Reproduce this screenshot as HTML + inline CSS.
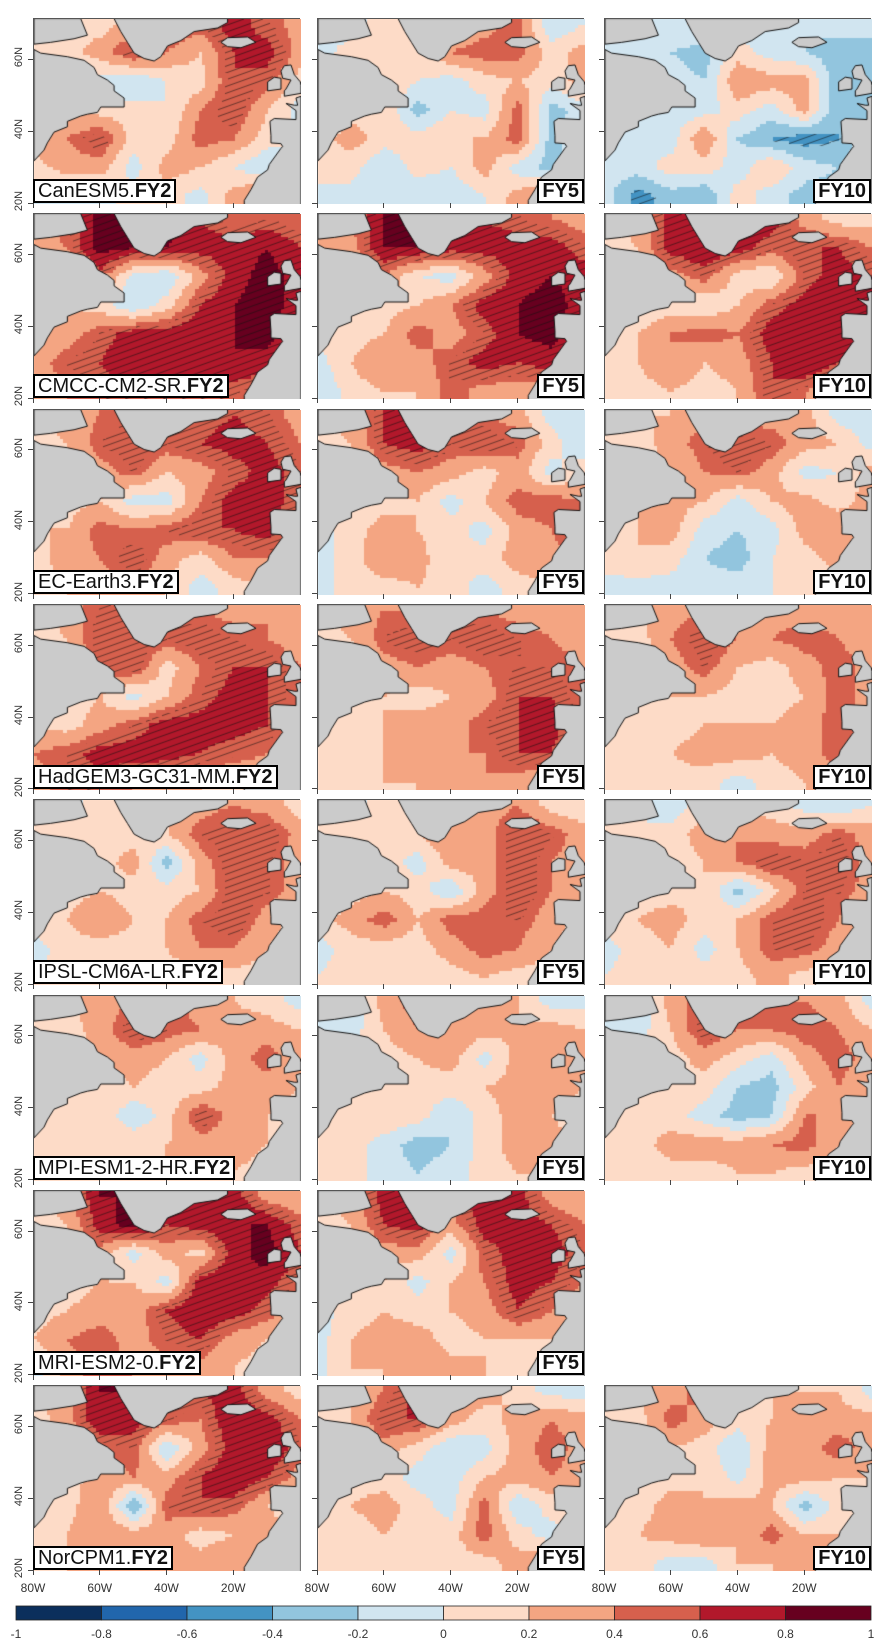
<!DOCTYPE html>
<html><head><meta charset="utf-8">
<style>
html,body{margin:0;padding:0;background:#fff;}
body{width:884px;height:1647px;position:relative;overflow:hidden;font-family:"Liberation Sans",sans-serif;}
.panel{position:absolute;width:267px;height:185px;border:1px solid #555;box-sizing:border-box;}
.panel canvas{position:absolute;left:0;top:0;}
.lbl{position:absolute;bottom:-1px;background:#fff;border:2px solid #000;font-size:20px;line-height:20px;padding:0 3px;color:#111;white-space:nowrap;}
.lbl b{font-weight:bold;}
.ylab{position:absolute;font-size:11px;color:#333;transform:rotate(-90deg);transform-origin:center;width:30px;text-align:center;}
.xlab{position:absolute;font-size:12px;color:#333;width:40px;text-align:center;}
.tick{position:absolute;background:#444;}
.cbl{position:absolute;font-size:12px;color:#333;width:40px;text-align:center;top:1627px;}
</style></head>
<body>
<div id="root"></div>
<svg id="cb" style="position:absolute;left:0;top:0" width="884" height="1647"></svg>
<script>
const models=["CanESM5","CMCC-CM2-SR","EC-Earth3","HadGEM3-GC31-MM","IPSL-CM6A-LR","MPI-ESM1-2-HR","MRI-ESM2-0","NorCPM1"];
const leads=["FY2","FY5","FY10"];
const lonGrid=[-80,-70,-60,-50,-40,-30,-20,-10,0];
const latGrid=[70,62,54,46,38,30,22];
const cbTicks=[-1,-0.8,-0.6,-0.4,-0.2,0,0.2,0.4,0.6,0.8,1];
const xTickLabels=["80W","60W","40W","20W"];
const xTickLons=[-80,-60,-40,-20];
const yTickLabels=["60N","40N","20N"];
const yTickLats=[60,40,20];
// values in tenths of correlation, rows = latGrid, cols = lonGrid
const CanESM5_FY2=[[2,2,1,3,6,5,7,5,3],[1,1,3,6,4,2,6,7,3],[1,0,-1,-2,0,1,6,5,1],[1,2,1,1,0,4,6,2,-1],[3,4,6,1,1,5,4,1,0],[1,3,3,-1,3,2,0,-2,0],[0,-1,-1,1,1,-1,3,5,0]];
const CanESM5_FY5=[[-1,-1,1,1,2,3,5,-2,0],[-1,1,1,1,4,5,5,1,3],[0,1,2,0,-1,1,2,1,3],[0,1,2,-3,0,-1,5,-3,-1],[1,3,1,1,2,2,5,-3,0],[0,1,-2,1,0,3,-1,-3,0],[0,-1,-1,-2,-2,0,3,5,0]];
const CanESM5_FY10=[[-1,-1,-1,1,-1,-2,-2,-1,-2],[-1,-1,-2,-3,1,-1,-2,-3,-2],[-1,-1,-1,-2,4,3,3,-4,-2],[-1,0,-1,-1,1,-1,3,-4,-3],[-1,-1,-1,4,-2,-4,-5,-4,0],[-1,-1,1,1,-1,2,-1,-2,0],[-1,-5,-3,-4,1,-1,-3,-3,0]];
const CMCC_FY2=[[3,5,9,8,9,6,4,5,4],[3,4,9,8,8,7,7,8,6],[2,2,5,-1,-2,3,7,9,7],[1,2,1,-2,1,6,8,9,7],[2,3,5,7,7,8,8,9,6],[3,5,6,8,7,7,8,7,5],[2,4,5,6,5,5,5,4,3]];
const CMCC_FY5=[[2,4,8,8,8,6,5,4,3],[2,3,8,8,7,7,7,7,5],[2,2,4,0,-1,3,7,8,7],[1,1,1,2,4,7,8,9,7],[1,1,2,5,3,5,8,9,6],[-1,2,4,3,5,7,6,7,5],[-2,1,2,2,5,3,3,3,2]];
const CMCC_FY10=[[1,3,7,8,8,7,3,1,1],[1,2,7,8,7,5,6,6,4],[1,2,3,5,1,0,5,7,6],[1,0,1,0,2,5,7,8,7],[1,2,4,5,4,7,8,8,5],[1,2,4,2,3,6,8,6,4],[1,1,2,1,2,6,4,3,2]];
const EC_FY2=[[2,3,4,5,6,5,6,5,3],[1,2,5,6,5,6,7,6,4],[1,2,3,5,2,3,5,7,5],[1,1,2,-1,-1,4,7,7,5],[2,2,5,4,5,6,6,7,4],[1,3,4,6,3,1,4,4,2],[1,2,3,4,2,-1,1,2,1]];
const EC_FY5=[[2,3,6,8,7,4,3,-1,-1],[1,2,6,7,5,6,5,1,-2],[1,1,3,4,3,1,3,-1,2],[1,1,1,2,-1,2,5,5,4],[-1,1,3,2,1,-1,3,4,7],[-1,1,4,3,0,1,3,3,4],[-1,1,1,2,1,-1,1,2,1]];
const EC_FY10=[[1,2,2,4,3,3,3,-1,-1],[1,1,3,5,6,5,3,2,-1],[1,1,2,4,5,3,-1,0,3],[1,2,3,2,-1,2,3,1,3],[1,2,3,-1,-2,-1,3,4,3],[1,2,1,-2,-3,0,1,3,2],[-1,-1,-1,-1,-1,0,1,1,1]];
const HAD_FY2=[[1,3,5,5,5,4,3,4,3],[1,2,6,6,5,6,5,4,3],[1,2,5,6,1,4,6,6,4],[1,1,2,-1,2,5,7,6,4],[2,1,3,5,7,7,7,6,3],[4,5,7,7,7,6,5,4,2],[3,5,5,4,3,2,2,2,1]];
const HAD_FY5=[[2,3,4,4,5,4,3,3,2],[1,2,5,6,5,6,5,4,3],[1,1,3,4,3,4,5,5,4],[1,1,2,1,2,3,6,6,4],[1,1,2,3,3,5,6,7,4],[1,1,2,3,4,4,6,6,3],[1,1,2,2,3,4,3,2,1]];
const HAD_FY10=[[1,2,3,4,4,3,3,3,2],[1,1,4,6,4,4,5,4,3],[1,1,3,5,2,1,3,5,3],[1,1,2,2,1,1,2,5,3],[1,1,1,2,2,2,3,5,3],[1,1,2,3,3,2,3,5,3],[1,1,1,1,-1,1,2,3,1]];
const IPSL_FY2=[[-2,-1,1,1,1,3,4,3,1],[1,1,1,1,2,5,6,6,3],[1,1,1,3,-3,3,6,5,3],[1,1,2,1,1,2,6,5,3],[1,2,4,2,2,5,6,3,1],[-1,1,1,1,2,4,4,2,1],[0,1,1,1,1,1,1,1,0]];
const IPSL_FY5=[[-1,-1,1,1,1,3,4,1,0],[1,1,1,2,4,3,6,5,3],[1,1,1,-1,3,3,6,4,3],[1,1,2,1,-2,3,6,4,3],[1,3,5,2,5,5,5,3,1],[-1,1,1,1,3,5,4,2,1],[0,1,2,1,1,2,1,1,0]];
const IPSL_FY10=[[-1,-1,-2,2,2,1,-1,-2,0],[1,1,1,3,4,3,3,5,3],[1,1,1,2,4,6,5,6,3],[1,1,1,2,-3,1,5,5,3],[1,2,3,1,2,5,6,4,1],[-1,1,2,-1,2,5,5,3,1],[0,1,1,1,1,3,1,1,0]];
const MPI_FY2=[[1,2,3,4,5,3,2,1,-1],[1,1,3,6,5,4,3,3,2],[1,1,2,3,2,-1,3,5,3],[1,1,1,2,1,1,3,3,2],[1,2,2,-2,1,6,3,2,1],[1,2,2,2,2,3,3,2,1],[1,1,2,2,2,2,2,1,0]];
const MPI_FY5=[[-1,-2,3,5,3,3,2,-1,-1],[-1,-1,2,4,4,3,2,3,2],[1,1,1,2,3,-1,3,3,3],[1,1,1,1,1,2,3,3,2],[1,1,2,1,-2,1,3,2,1],[1,1,-1,-3,-2,1,3,3,1],[0,1,-1,-2,-1,1,2,2,0]];
const MPI_FY10=[[-1,-2,3,5,5,4,4,3,-1],[-1,-1,2,6,4,4,5,4,2],[1,1,1,3,1,-1,3,5,3],[1,1,1,1,-2,-3,1,4,2],[1,1,1,-1,-3,-2,4,4,1],[1,1,3,3,3,4,5,2,1],[0,1,1,1,2,2,1,1,0]];
const MRI_FY2=[[2,3,8,8,7,7,7,3,2],[1,2,7,9,6,7,8,8,5],[1,2,3,-1,3,1,7,9,6],[1,1,2,2,-1,7,8,7,4],[1,2,3,3,6,8,7,5,3],[2,4,5,3,5,6,3,2,1],[-1,3,5,4,3,3,2,1,0]];
const MRI_FY5=[[2,3,7,8,6,7,7,3,2],[1,2,6,7,3,7,7,6,4],[1,1,3,3,-1,5,7,7,5],[1,1,2,-1,2,4,7,6,4],[-1,1,2,1,2,3,6,4,2],[-1,2,3,3,1,2,2,2,1],[-1,2,2,4,3,2,2,1,0]];
const NOR_FY2=[[2,3,8,8,6,6,7,3,1],[1,3,8,7,5,4,8,7,4],[1,2,4,5,-2,3,7,8,5],[1,1,3,4,3,6,8,6,3],[1,1,4,-4,5,6,5,2,1],[1,2,4,3,3,1,2,3,1],[1,2,3,3,2,3,4,3,0]];
const NOR_FY5=[[-1,2,4,7,3,3,1,-1,-1],[1,2,6,6,3,1,3,4,3],[1,1,3,1,-2,-1,3,5,3],[1,1,1,-1,-1,2,3,4,3],[1,2,3,1,-1,5,-2,1,1],[1,1,2,1,1,5,1,-1,1],[1,1,1,1,1,1,3,4,0]];
const NOR_FY10=[[1,2,3,5,1,2,2,2,-1],[1,1,5,3,1,2,3,3,3],[1,1,2,1,-2,3,3,5,3],[1,1,1,2,-1,3,3,2,2],[1,1,3,2,3,2,-3,1,1],[1,2,3,4,2,5,2,2,1],[1,1,-1,-1,2,2,3,3,0]];
const fields=[[CanESM5_FY2,CanESM5_FY5,CanESM5_FY10],[CMCC_FY2,CMCC_FY5,CMCC_FY10],[EC_FY2,EC_FY5,EC_FY10],[HAD_FY2,HAD_FY5,HAD_FY10],[IPSL_FY2,IPSL_FY5,IPSL_FY10],[MPI_FY2,MPI_FY5,MPI_FY10],[MRI_FY2,MRI_FY5,null],[NOR_FY2,NOR_FY5,NOR_FY10]];

const palette=["#0b2f5c","#2166ac","#4393c3","#92c5de","#d1e5f0","#fddbc7","#f4a582","#d6604d","#b2182b","#67001f"];
const land=[
 [[-80,32],[-77,35],[-76,37],[-74,40],[-70,41.5],[-70,43],[-66,44.5],[-64,45],[-61,45.5],[-60,47],[-53,47],[-53,49.5],[-56,51.5],[-56,53],[-58,54.5],[-61,56],[-62,58],[-65,60],[-70,61],[-78,62],[-80,63]],
 [[-80,64.5],[-75,65],[-68,66],[-64,67],[-66,71.6],[-80,71.6]],
 [[-56,71.6],[-54,68],[-52,65],[-50,62],[-47,60.5],[-44,59.8],[-42,61],[-40,64],[-36,65.5],[-32,68],[-25,69],[-22,70.5],[-22,71.6]],
 [[-24,65],[-22,66.3],[-16,66.5],[-13.5,65],[-18,63.5],[-22,63.8]],
 [[-10,51.5],[-6,52],[-6,55],[-8,55.3],[-10,54]],
 [[-5,50],[0,50.8],[0,53],[-0.2,54],[-2,56],[-3,58.7],[-5,58.5],[-6,57],[-5.5,55],[-3,54.5],[-4.5,52],[-5,51.5]],
 [[0,50],[-1.5,49.5],[-1,47.5],[-2,47.5],[-4.5,48],[-1.5,46],[-1.5,43.5],[-8,43.8],[-9.3,43],[-9,39],[-9,37],[-6,36.8],[-5.5,36],[-6,35.5],[-9.5,31],[-10,29.5],[-13,27.5],[-15,24],[-17,21],[-17,19],[0,19]]
];
const W=267,H=185;
const colX=[33,317,604];
const rowY=i=>18+i*195.3;
function xOf(lon){return (lon+80)/80*W;}
function yOf(lat){return (71.5-lat)/51.5*H;}
function sample(f,lon,lat){
  let fx=(lon+80)/10; fx=Math.max(0,Math.min(8,fx));
  let fy=(70-lat)/8; fy=Math.max(0,Math.min(6,fy));
  const i0=Math.min(7,Math.floor(fx)), j0=Math.min(5,Math.floor(fy));
  const tx=fx-i0, ty=fy-j0;
  const a=f[j0][i0],b=f[j0][i0+1],c=f[j0+1][i0],d=f[j0+1][i0+1];
  return ((a*(1-tx)+b*tx)*(1-ty)+(c*(1-tx)+d*tx)*ty)/10;
}
function colorOf(v){let k=Math.floor((v+1)/0.2);k=Math.max(0,Math.min(9,k));return palette[k];}
function landPath(ctx){ctx.beginPath();for(const p of land){p.forEach((q,i)=>{const x=xOf(q[0]),y=yOf(q[1]);if(i)ctx.lineTo(x,y);else ctx.moveTo(x,y);});ctx.closePath();}}
const root=document.getElementById('root');
function add(tag,cls,parent){const e=document.createElement(tag);if(cls)e.className=cls;(parent||root).appendChild(e);return e;}
models.forEach((m,r)=>{
  leads.forEach((ld,c)=>{
    const f=fields[r][c];
    if(!f)return;
    const p=add('div','panel');
    
    
    p.style.left=colX[c]+'px';p.style.top=rowY(r)+'px';
    const cv=add('canvas','',p);cv.width=W;cv.height=H;
    
    
    const ctx=cv.getContext('2d');
    const mk=document.createElement('canvas');mk.width=W;mk.height=H;const mctx=mk.getContext('2d');
    const bs=3.3;
    for(let y=0;y<H;y+=bs){for(let x=0;x<W;x+=bs){
      const lon=-80+(x+bs/2)/W*80, lat=71.5-(y+bs/2)/H*51.5;
      const v=sample(f,lon,lat);
      ctx.fillStyle=colorOf(v);ctx.fillRect(Math.floor(x),Math.floor(y),Math.ceil(bs)+1,Math.ceil(bs)+1);
      if(v>=0.5||v<=-0.4){mctx.fillStyle='#000';mctx.fillRect(Math.floor(x),Math.floor(y),Math.ceil(bs)+1,Math.ceil(bs)+1);}
    }}
    // hatching
    const hc=document.createElement('canvas');hc.width=W;hc.height=H;const hctx=hc.getContext('2d');
    hctx.strokeStyle='rgba(20,20,20,0.7)';hctx.lineWidth=0.8;
    for(let k=-H*3;k<W+H;k+=19){hctx.beginPath();hctx.moveTo(k,H);hctx.lineTo(k+H*2.8,0);hctx.stroke();}
    hctx.globalCompositeOperation='destination-in';hctx.drawImage(mk,0,0);
    ctx.drawImage(hc,0,0);
    // land
    landPath(ctx);ctx.fillStyle='#cbcbcb';ctx.fill();ctx.strokeStyle='#111';ctx.lineWidth=1;ctx.stroke();
    // label
    const lb=add('div','lbl',p);
    
    
    if(c===0){lb.style.left='-1px';lb.innerHTML=m+'.<b>'+ld+'</b>';}
    else{lb.style.right='-1px';lb.innerHTML='<b>'+ld+'</b>';}
    // y ticks
    yTickLats.forEach((lat,i)=>{
      const t=add('div','tick');
      t.style.left=(colX[c]-5)+'px';t.style.top=(rowY(r)+yOf(lat)-0.5)+'px';t.style.width='5px';t.style.height='1px';
      if(c===0){const l=add('div','ylab');
        l.textContent=yTickLabels[i];l.style.left='4px';l.style.top=(rowY(r)+yOf(lat)-8)+'px';}
    });
    xTickLons.forEach(lon=>{
      const t=add('div','tick');
      t.style.left=(colX[c]+xOf(lon)-0.5)+'px';t.style.top=(rowY(r)+H)+'px';t.style.width='1px';t.style.height='5px';
    });
  });
});
colX.forEach(x0=>{xTickLons.forEach((lon,i)=>{
  const l=add('div','xlab');
  l.textContent=xTickLabels[i];l.style.left=(x0+xOf(lon)-20)+'px';l.style.top='1581px';
});});
// colorbar
const svg=document.getElementById('cb');const NS='http://www.w3.org/2000/svg';
const cbX0=16,cbX1=871,cbY=1606,cbH=14;
const cbx=v=>cbX0+(v+1)/2*(cbX1-cbX0);
for(let k=0;k<10;k++){
  const r=document.createElementNS(NS,'rect');
  
  
  r.setAttribute('x',cbx(cbTicks[k]));r.setAttribute('y',cbY);r.setAttribute('width',cbx(cbTicks[k+1])-cbx(cbTicks[k]));r.setAttribute('height',cbH);
  r.setAttribute('fill',palette[k]);r.setAttribute('stroke','#222');r.setAttribute('stroke-width','0.8');svg.appendChild(r);
}
cbTicks.forEach(v=>{
  const l=add('div','cbl');
  l.textContent=String(v);l.style.left=(cbx(v)-20)+'px';
});
</script>
</body></html>
